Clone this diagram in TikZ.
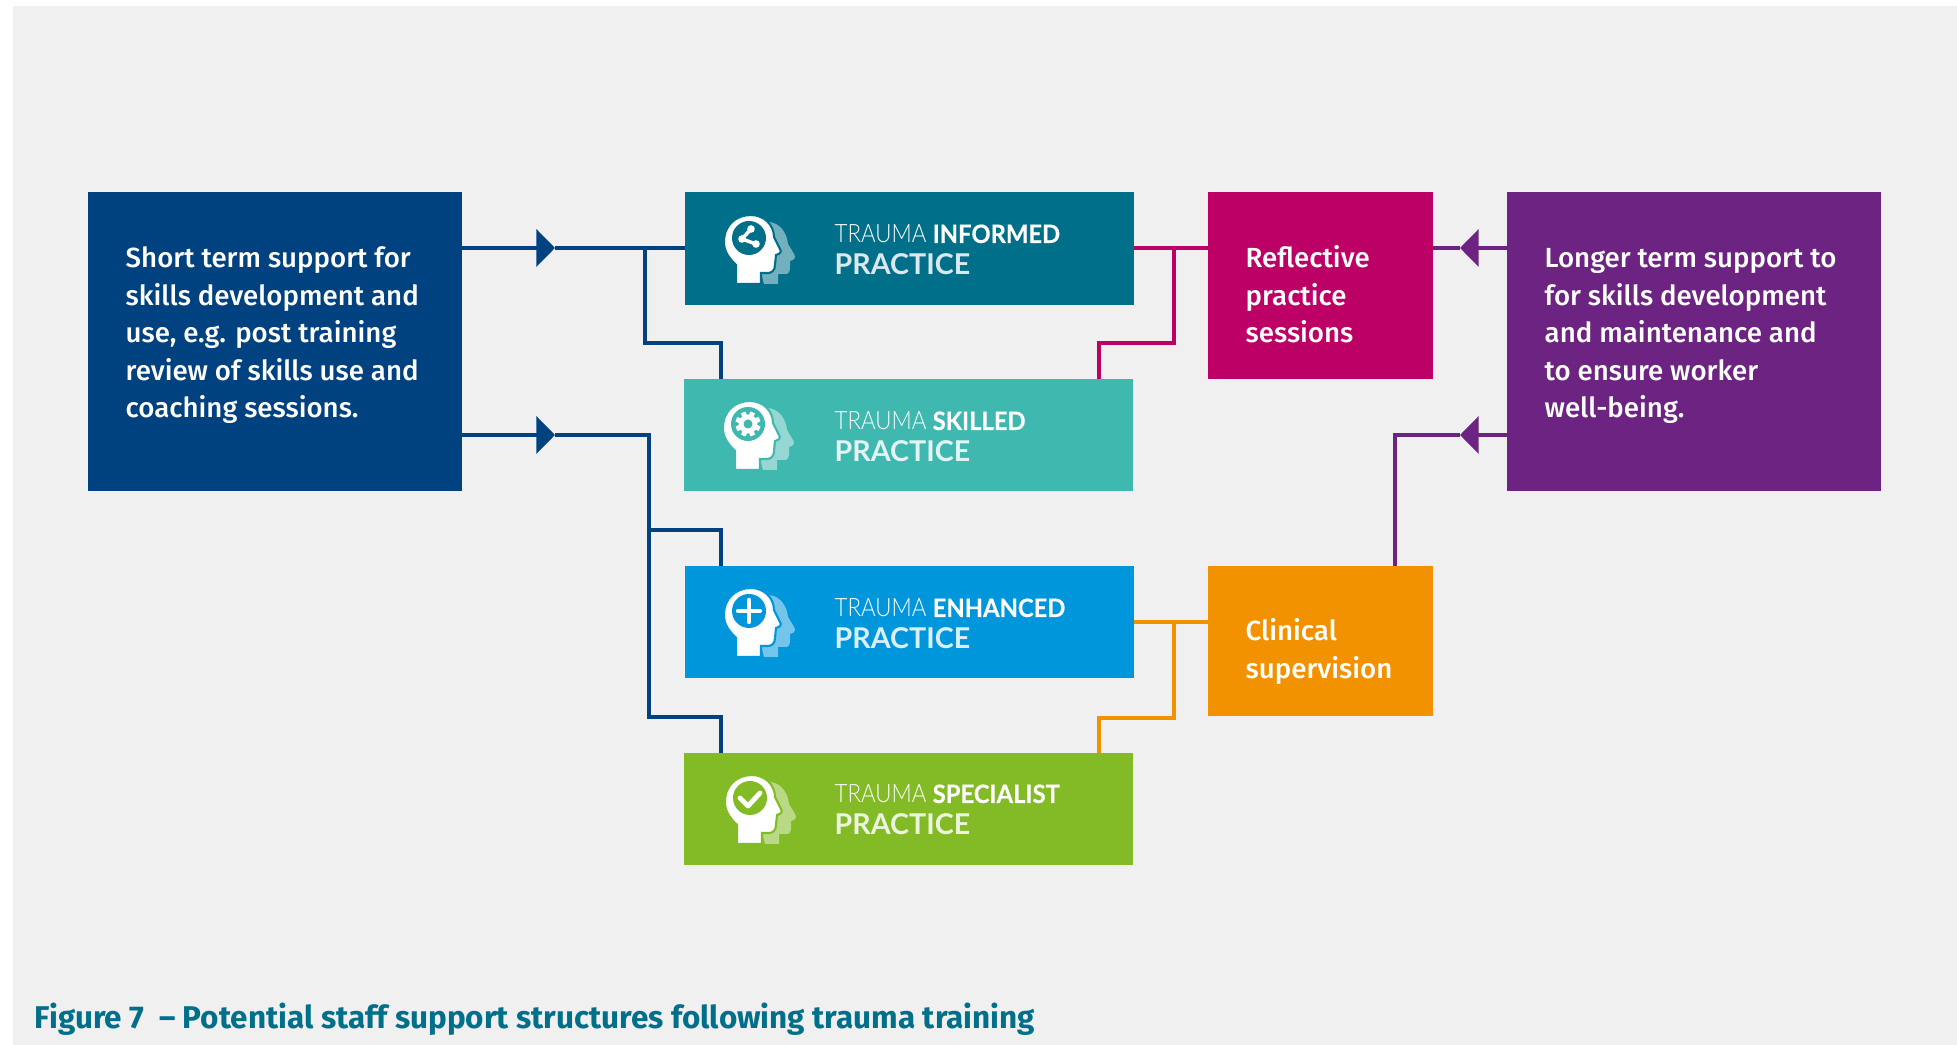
\documentclass[tikz,border=0pt]{standalone}
\usepackage{fontspec}
\setmainfont{Fira Sans Medium}
\newfontfamily\lightfont[FakeStretch=.88]{Lato Light}
\newfontfamily\boldfont[FakeStretch=.94,FakeBold=.3]{Lato Bold}
\newfontfamily\namefont{Lato Bold}
\newfontfamily\captionfont{Fira Sans Bold}
\usetikzlibrary{arrows.meta}
\definecolor{panelgrey}{HTML}{F0F0F0}
\definecolor{tealblue}{HTML}{00708A}
\definecolor{skillgreen}{HTML}{3FB8B0}
\definecolor{skyblue}{HTML}{0096DC}
\definecolor{leafgreen}{HTML}{82BB26}
\definecolor{navyblue}{HTML}{004280}
\definecolor{magentared}{HTML}{BD0066}
\definecolor{royalpurple}{HTML}{6C2382}
\definecolor{amberorange}{HTML}{F39200}
\tikzset{
  colourbox/.style={inner sep=0pt, outer sep=0pt, anchor=north west},
  bodytext/.style={anchor=north west, inner sep=0pt, align=left, text=white, font=\fontsize{7.87pt}{10.67pt}\selectfont},
  levelhead/.style={anchor=base west, inner sep=0pt, text=white, font=\fontsize{7.2pt}{9pt}\selectfont},
  levelname/.style={anchor=base west, inner sep=0pt, text=white, text opacity=.85, font=\namefont\fontsize{8.15pt}{10pt}\selectfont},
  wire/.style={line width=1.1pt},
  tipwire/.style={line width=1.1pt, -{Triangle[length=5.3pt,width=10.5pt]}},
}
\newcommand{\headicon}[4]{
\begin{scope}[shift={(#1,#2)}]
\fill[white, opacity=.45] (40,69) -- (54,69) -- (54,59) -- (62,59) .. controls (65,59) and (66,56) .. (66,52) -- (66,46) .. controls (71,45) and (72,42) .. (70,39) -- (64,29) .. controls (63,18) and (56,8) .. (45,7) -- (30,30) -- cycle;
\draw[#3, fill=white, line width=.6pt] (12,69) -- (12,50) .. controls (4,42) and (0,36) .. (0,27) .. controls (0,10) and (12,0) .. (27,0) .. controls (40,0) and (50,10) .. (50,22) -- (56,34) .. controls (58,37) and (56,39) .. (52,40) -- (51,50) .. controls (51,55) and (48,58) .. (44,58) -- (37,58) -- (37,69) -- cycle;
\fill[#3] (25,23) circle (17);
#4
\end{scope}
}
\newcommand{\shareglyph}{
\draw[white, line width=1pt] (27,14) -- (18,24) -- (32,29);
\fill[white] (27,14) circle (3.8) (18,24) circle (3.8) (32,29) circle (3.8);
}
\newcommand{\gearglyph}[1]{
\foreach \a in {0,45,...,315}{
\draw[white, line width=1.4pt] (25,23) -- ++(\a+22:12.5);
}
\fill[white] (25,23) circle (9.5);
\fill[#1] (25,23) circle (4.5);
}
\newcommand{\plusglyph}{
\draw[white, line width=1.2pt, line cap=round] (14,23) -- (36,23) (25,12) -- (25,34);
}
\newcommand{\checkglyph}{
\draw[white, line width=1.4pt, line cap=round, line join=round] (15,23) -- (23,31) -- (35,18);
}
\begin{document}
\begin{tikzpicture}[x=.1mm, y=-.1mm]
\useasboundingbox (0,0) rectangle (1957,1045);
\fill[panelgrey] (13,6) rectangle (1957,1045);
% boxes
\node[colourbox, fill=navyblue, minimum width=37.4mm, minimum height=29.9mm] (shortbox) at (88,192){};
\node[colourbox, fill=tealblue, minimum width=44.9mm, minimum height=11.3mm] (informedbox) at (685,192){};
\node[colourbox, fill=skillgreen, minimum width=44.9mm, minimum height=11.2mm] (skilledbox) at (684,379){};
\node[colourbox, fill=skyblue, minimum width=44.9mm, minimum height=11.2mm] (enhancedbox) at (685,566){};
\node[colourbox, fill=leafgreen, minimum width=44.9mm, minimum height=11.2mm] (specialistbox) at (684,753){};
\node[colourbox, fill=magentared, minimum width=22.5mm, minimum height=18.7mm] (reflectivebox) at (1208,192){};
\node[colourbox, fill=amberorange, minimum width=22.5mm, minimum height=15mm] (clinicalbox) at (1208,566){};
\node[colourbox, fill=royalpurple, minimum width=37.4mm, minimum height=29.9mm] (longbox) at (1507,192){};
% box texts
\node[bodytext] (shorttext) at (125,246){Short term support for\\skills development and\\use, e.g. post training\\review of skills use and\\coaching sessions.};
\node[bodytext] (reflectivetext) at (1245,245){Reflective\\practice\\sessions};
\node[bodytext] (clinicaltext) at (1245,618){Clinical\\supervision};
\node[bodytext] (longtext) at (1544,248){Longer term support to\\for skills development\\and maintenance and\\to ensure worker\\well-being.};
\node[levelhead] (informedhead) at (834,243){{\lightfont TRAUMA} {\boldfont INFORMED}};
\node[levelname] (informedname) at (834,275){PRACTICE};
\node[levelhead] (skilledhead) at (834,430){{\lightfont TRAUMA} {\boldfont SKILLED}};
\node[levelname] (skilledname) at (834,462){PRACTICE};
\node[levelhead] (enhancedhead) at (834,617){{\lightfont TRAUMA} {\boldfont ENHANCED}};
\node[levelname] (enhancedname) at (834,649){PRACTICE};
\node[levelhead] (specialisthead) at (834,803){{\lightfont TRAUMA} {\boldfont SPECIALIST}};
\node[levelname] (specialistname) at (834,835){PRACTICE};
% icons
\headicon{724}{215}{tealblue}{\shareglyph}
\headicon{723}{401}{skillgreen}{\gearglyph{skillgreen}}
\headicon{724}{588}{skyblue}{\plusglyph}
\headicon{725}{775}{leafgreen}{\checkglyph}
% connector points
\coordinate (shortouta) at (462,248);
\coordinate (shortoutb) at (462,435);
\coordinate (tipa) at (555,248);
\coordinate (tipb) at (555,435);
\coordinate (infojoin) at (645,248);
\coordinate (skilltop) at (721,379);
\coordinate (enhjoin) at (649,435);
\coordinate (enhtop) at (721,566);
\coordinate (spectop) at (721,753);
\coordinate (tipc) at (1460,248);
\coordinate (tipd) at (1460,435);
\coordinate (longouta) at (1507,248);
\coordinate (longoutb) at (1507,435);
\coordinate (reflin) at (1208,248);
\coordinate (reflout) at (1433,248);
\coordinate (infoout) at (1134,248);
\coordinate (reflop) at (1174,248);
\coordinate (skillright) at (1099,379);
\coordinate (clinictop) at (1395,566);
\coordinate (enhout) at (1134,622);
\coordinate (clinicin) at (1208,622);
\coordinate (clinicjoin) at (1174,622);
\coordinate (specright) at (1099,753);
% connectors
\draw[tipwire, navyblue](shortouta) -- (tipa);
\draw[wire, navyblue](tipa) -- (informedbox.west |- tipa);
\draw[wire, navyblue](infojoin) -- (645,343) -- (721,343) -- (skilltop);
\draw[tipwire, navyblue](shortoutb) -- (tipb);
\draw[wire, navyblue](tipb) -- (enhjoin) -- (649,717) -- (721,717) -- (spectop);
\draw[wire, navyblue](649,530) -- (721,530) -- (enhtop);
\draw[wire, magentared](infoout) -- (reflin);
\draw[wire, magentared](reflop) -- (1174,343) -- (1099,343) -- (skillright);
\draw[tipwire, royalpurple](longouta) -- (tipc);
\draw[wire, royalpurple](tipc) -- (reflout);
\draw[tipwire, royalpurple](longoutb) -- (tipd);
\draw[wire, royalpurple](tipd) -- (1395,435) -- (clinictop);
\draw[wire, amberorange](enhout) -- (clinicin);
\draw[wire, amberorange](clinicjoin) -- (1174,718) -- (1099,718) -- (specright);
% caption
\node[anchor=base west, inner sep=0pt, text=tealblue, font=\captionfont\fontsize{8.95pt}{10pt}\selectfont] (figcaption) at (34,1029){Figure 7\ \ – Potential staff support structures following trauma training};
\end{tikzpicture}
\end{document}
